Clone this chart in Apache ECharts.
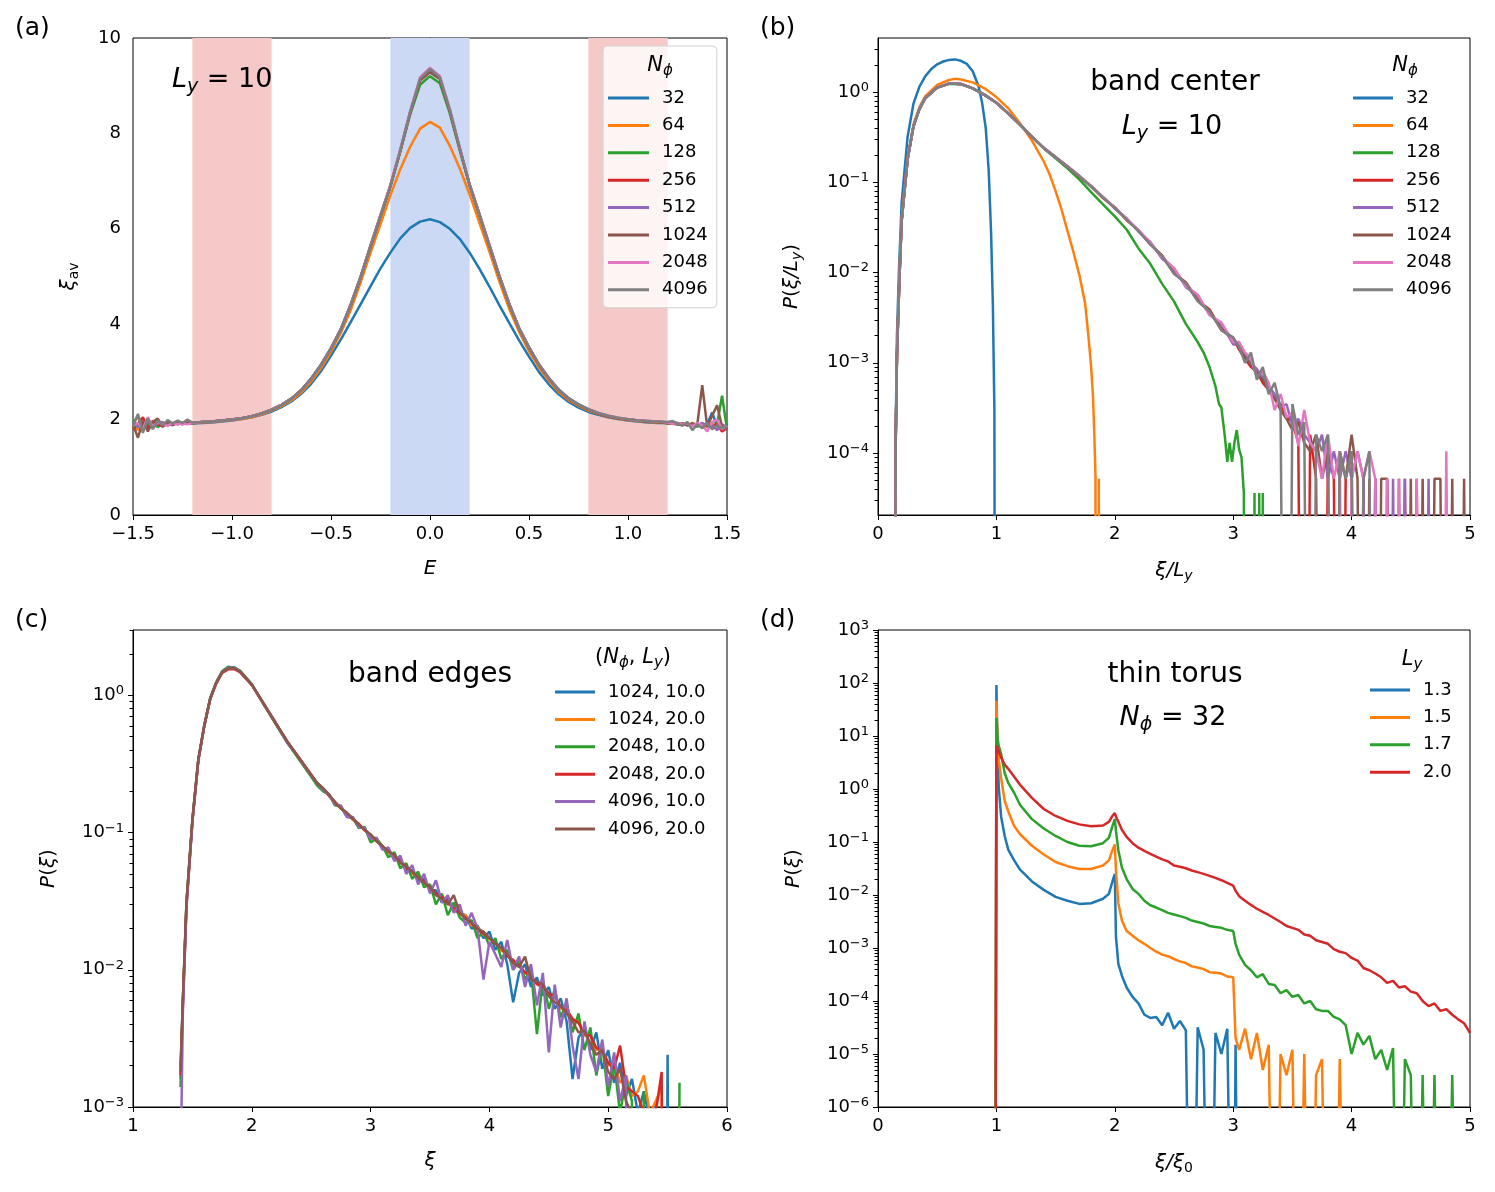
<!DOCTYPE html>
<html>
<head>
<meta charset="utf-8">
<script src="https://cdn.jsdelivr.net/npm/echarts@6/dist/echarts.min.js"></script>
<style>
  html, body { margin: 0; padding: 0; background: #fff; }
  #chart { width: 1495px; height: 1192px; }
</style>
</head>
<body>
<div id="chart"></div>
<script>
// ---------- panel (a): xi_av vs E ----------
const xA = [-1.5,-1.475,-1.45,-1.425,-1.4,-1.375,-1.35,-1.325,-1.3,-1.275,-1.25,-1.225,-1.2,
  -1.15,-1.1,-1.05,-1,-0.95,-0.9,-0.85,-0.8,-0.75,-0.7,-0.65,-0.6,-0.55,-0.5,-0.45,-0.4,-0.35,-0.3,-0.25,-0.2,-0.15,-0.1,-0.05,0,
  0.05,0.1,0.15,0.2,0.25,0.3,0.35,0.4,0.45,0.5,0.55,0.6,0.65,0.7,0.75,0.8,0.85,0.9,0.95,1,1.05,1.1,1.15,
  1.2,1.225,1.25,1.275,1.3,1.325,1.35,1.375,1.4,1.425,1.45,1.475,1.5]
const a32 = [1.86,1.9,1.83,1.95,1.88,1.92,1.89,1.91,1.9,1.92,1.91,1.93,1.92,
  1.93,1.94,1.96,1.98,2.01,2.05,2.1,2.17,2.26,2.38,2.54,2.75,3.02,3.34,3.68,4.05,4.42,4.8,5.17,5.5,5.8,6.02,6.15,
  6.2,
  6.14,6.0,5.79,5.5,5.16,4.79,4.4,4.03,3.66,3.32,3.0,2.74,2.53,2.37,2.25,2.16,2.1,2.05,2.01,1.98,1.96,1.94,1.93,
  1.93,1.92,1.91,1.9,1.92,1.88,1.9,1.87,1.91,2.15,1.85,1.88,1.8]
const a64 = [1.9,1.78,1.92,1.85,1.95,1.87,1.91,1.9,1.93,1.91,1.92,1.92,1.93,
  1.94,1.95,1.97,1.99,2.01,2.05,2.11,2.19,2.28,2.4,2.57,2.8,3.08,3.42,3.82,4.3,4.88,5.5,6.1,6.7,7.25,7.72,8.1,
  8.24,
  8.12,7.74,7.27,6.72,6.12,5.52,4.9,4.32,3.84,3.43,3.09,2.81,2.58,2.41,2.29,2.19,2.12,2.06,2.02,1.99,1.97,1.95,1.94,
  1.93,1.92,1.9,1.92,1.88,1.93,1.86,1.9,1.84,1.92,1.87,1.82,1.85]
const a128 = [1.95,2.05,1.85,1.9,1.96,1.84,1.93,1.9,1.92,1.94,1.91,1.93,1.92,
  1.95,1.96,1.98,2.0,2.03,2.07,2.13,2.2,2.3,2.43,2.61,2.85,3.14,3.48,3.88,4.4,4.98,5.62,6.25,6.88,7.62,8.4,9.02,
  9.2,
  9.05,8.42,7.65,6.9,6.27,5.64,5.0,4.41,3.9,3.5,3.15,2.86,2.62,2.44,2.31,2.21,2.13,2.07,2.03,2.0,1.98,1.96,1.95,
  1.92,1.93,1.9,1.91,1.89,1.9,1.85,1.92,1.88,1.84,1.9,2.5,1.8]
const a256 = [1.8,1.92,2.05,1.82,1.97,1.9,1.86,1.94,1.9,1.92,1.93,1.91,1.93,
  1.95,1.96,1.98,2.0,2.03,2.07,2.13,2.21,2.31,2.44,2.62,2.86,3.15,3.5,3.9,4.41,4.99,5.64,6.27,6.9,7.64,8.44,9.12,
  9.3,
  9.15,8.48,7.68,6.92,6.29,5.65,5.01,4.42,3.91,3.51,3.15,2.86,2.62,2.44,2.31,2.21,2.13,2.07,2.03,2.0,1.98,1.96,1.95,
  1.93,1.91,1.92,1.89,1.91,1.88,1.9,1.86,1.93,1.85,1.9,1.75,1.82]
const a512 = [1.95,1.84,1.9,1.98,1.83,1.92,1.95,1.88,1.92,1.9,1.94,1.92,1.93,
  1.95,1.96,1.98,2.0,2.03,2.07,2.13,2.21,2.31,2.44,2.62,2.86,3.15,3.5,3.9,4.42,5.0,5.65,6.28,6.91,7.65,8.45,9.14,
  9.32,
  9.16,8.49,7.69,6.93,6.3,5.66,5.02,4.43,3.92,3.52,3.16,2.87,2.63,2.45,2.32,2.22,2.14,2.08,2.04,2.01,1.98,1.97,1.96,
  1.94,1.92,1.93,1.9,1.88,1.91,1.87,1.93,1.86,1.88,1.78,1.9,1.84]
const a1024 = [1.9,1.62,1.98,1.75,1.95,2.02,1.85,1.93,1.88,1.95,1.9,1.94,1.93,
  1.95,1.96,1.98,2.0,2.03,2.07,2.13,2.21,2.31,2.44,2.62,2.86,3.15,3.5,3.9,4.41,4.99,5.64,6.27,6.9,7.63,8.43,9.11,
  9.28,
  9.14,8.47,7.68,6.92,6.29,5.65,5.01,4.42,3.91,3.51,3.15,2.86,2.62,2.44,2.31,2.21,2.13,2.07,2.03,2.0,1.98,1.96,1.95,
  1.93,1.92,1.9,1.92,1.88,1.92,1.9,2.72,1.85,2.08,2.3,1.85,1.8]
const a2048 = [1.88,1.93,1.8,2.05,1.85,1.95,1.9,1.87,1.93,1.9,1.92,1.9,1.93,
  1.95,1.96,1.98,2.0,2.03,2.07,2.13,2.21,2.31,2.44,2.62,2.86,3.15,3.5,3.9,4.42,5.0,5.66,6.29,6.92,7.67,8.47,9.18,
  9.38,
  9.2,8.52,7.71,6.94,6.31,5.67,5.03,4.44,3.92,3.52,3.16,2.87,2.63,2.45,2.32,2.22,2.14,2.08,2.04,2.01,1.98,1.97,1.96,
  1.94,1.91,1.93,1.9,1.92,1.86,1.93,1.88,1.75,1.95,2.0,1.8,1.87]
const a4096 = [1.85,2.12,1.72,2.02,1.8,1.98,1.88,1.99,1.92,1.98,1.93,2.0,1.94,
  1.95,1.96,1.98,2.0,2.03,2.07,2.13,2.21,2.31,2.44,2.62,2.86,3.15,3.5,3.9,4.42,5.0,5.65,6.28,6.9,7.65,8.45,9.15,
  9.35,
  9.18,8.5,7.7,6.93,6.3,5.66,5.02,4.43,3.92,3.52,3.16,2.87,2.63,2.45,2.32,2.22,2.14,2.08,2.04,2.01,1.98,1.97,1.96,
  1.95,1.97,1.92,1.87,1.95,1.78,1.9,1.82,1.93,1.8,1.88,1.82,1.87]
const namesN = ['32', '64', '128', '256', '512', '1024', '2048', '4096']
const bandsRed = [[-1.2, -0.8], [0.8, 1.2]]
const bandBlue = [-0.2, 0.2]

// ---------- panel (b): P(xi/Ly), band center ----------
const xB32 = [0.14,0.15,0.16,0.177,0.2,0.25,0.3,0.35,0.4,0.45,0.5,0.55,0.6,0.65,0.7,0.75,0.8,0.85,0.88,0.91,0.935,0.955,0.97,0.983,0.994]
const yB32 = [0,2e-4,2e-3,0.0105,0.06,0.32,0.75,1.15,1.5,1.8,2.03,2.18,2.27,2.3,2.22,2.05,1.7,1.15,0.75,0.4,0.135,0.028,4.5e-3,3e-4,0]
const xB64 = [0.14,0.15,0.16,0.18,0.2,0.25,0.3,0.35,0.4,0.5,0.6,0.65,0.7,0.8,0.9,1.0,1.1,1.2,1.3,1.4,
  1.45,1.5,1.55,1.6,1.65,1.7,1.75,1.78,1.8,1.815,1.826,1.837,1.843,1.86,1.865,1.87]
const yB64 = [0,1.5e-4,1.3e-3,9e-3,0.04,0.19,0.44,0.68,0.9,1.2,1.36,1.4,1.38,1.28,1.1,0.88,0.66,0.45,0.29,0.17,
  0.122,0.08,0.05,0.029,0.017,0.0095,0.0045,0.0018,9e-4,4.4e-4,1.8e-4,5.5e-5,0,0,5.2e-5,0]
const xB128 = [0.14,0.15,0.16,0.18,0.2,0.25,0.3,0.35,0.4,0.5,0.6,0.7,0.8,0.9,1.0,1.1,1.2,1.3,1.4,1.5,
  1.6,1.7,1.8,1.9,2.0,2.1,2.2,2.3,2.4,2.5,2.6,2.7,2.75,2.8,2.85,2.88,2.9,2.93,2.95,2.97,
  2.99,3.01,3.03,3.05,3.07,3.09,3.1,3.17,3.18,3.19,3.21,3.22,3.23,3.24,3.25,3.26]
const yB128 = [0,1.5e-4,1.2e-3,8e-3,0.038,0.18,0.42,0.65,0.86,1.12,1.23,1.22,1.1,0.93,0.76,0.578,0.432,0.318,0.237,0.185,
  0.143,0.108,0.078,0.057,0.042,0.03,0.0185,0.0125,0.0075,0.0048,0.0027,0.0017,0.0013,9e-4,5.5e-4,3.5e-4,3.2e-4,1.5e-4,8e-5,1.3e-4,
  8e-5,1.3e-4,1.8e-4,1.1e-4,9e-5,3.6e-5,0,0,3.6e-5,0,0,3.6e-5,0,0,3.6e-5,0]
const xBund = [0.14,0.15,0.16,0.18,0.2,0.25,0.3,0.35,0.4,0.5,0.6,0.7,0.8,0.9,1.0,1.1,1.2,1.3,1.4,1.5,
  1.6,1.7,1.8,1.9,2.0,2.1,2.2,2.3,2.4,2.5,2.6,2.7,2.8,2.9,3.0,
  3.05,3.1,3.15,3.2,3.25,3.3,3.35,3.4,3.45,3.5,3.55,3.6,3.65,3.7,3.75,3.8,3.85,3.9,3.95,4.0,
  4.05,4.1,4.15,4.2,4.25,4.3,4.35,4.4,4.45,4.5,4.55,4.6,4.65,4.7,4.75,4.8,4.85,4.9,4.95,5.0]
const yB256 = [0,1.4e-4,1.1e-3,7.8e-3,0.037,0.18,0.42,0.65,0.86,1.12,1.24,1.23,1.1,0.93,0.76,0.58,0.435,
  0.32,0.24,0.19,0.15,0.116,0.091,0.067,0.053,0.038,0.0295,0.0205,0.0155,0.0098,0.0078,0.0049,0.0039,0.0023,0.0019,
  1.4e-3,1.1e-3,9e-4,8e-4,6e-4,5e-4,4e-4,3.5e-4,2.5e-4,2.2e-4,1.3e-4,0,1.6e-4,5.2e-5,0,1.05e-4,5.2e-5,0,5.2e-5,1.05e-4,
  0,5.2e-5,0,5.2e-5,0,5.2e-5,0,0,5.2e-5,0,5.2e-5,0,0,0,0,0,0,0,0,0]
const yB512 = [0,1.6e-4,1.25e-3,8.2e-3,0.039,0.18,0.42,0.65,0.86,1.12,1.24,1.23,1.1,0.93,0.76,0.58,0.436,
  0.321,0.241,0.191,0.151,0.118,0.089,0.069,0.051,0.04,0.0285,0.0218,0.0142,0.0112,0.0069,0.0056,0.0034,0.0027,0.0016,
  1.6e-3,1.2e-3,1.0e-3,8.5e-4,7e-4,5.5e-4,4.5e-4,3.2e-4,3.5e-4,2e-4,2.4e-4,1.6e-4,1.3e-4,1.05e-4,1.6e-4,5.2e-5,1.05e-4,5.2e-5,1.05e-4,5.2e-5,
  1.05e-4,5.2e-5,0,5.2e-5,0,0,5.2e-5,0,5.2e-5,0,0,0,5.2e-5,0,0,0,0,0,0,0]
const yB1024 = [0,1.5e-4,1.2e-3,8e-3,0.038,0.18,0.42,0.65,0.86,1.12,1.24,1.23,1.1,0.93,0.76,0.579,0.434,
  0.319,0.239,0.189,0.149,0.117,0.09,0.068,0.052,0.0392,0.029,0.021,0.0151,0.0101,0.0076,0.005,0.0038,0.0024,0.0018,
  1.5e-3,1.15e-3,9.5e-4,7.5e-4,6.5e-4,5e-4,4e-4,3e-4,2.4e-4,1.8e-4,2.2e-4,1.3e-4,1.05e-4,1.6e-4,5.2e-5,1.05e-4,0,1.05e-4,5.2e-5,1.6e-4,
  5.2e-5,0,5.2e-5,0,5.2e-5,5.2e-5,0,5.2e-5,0,5.2e-5,0,5.2e-5,0,5.2e-5,5.2e-5,0,5.2e-5,0,5.2e-5,0]
const yB2048 = [0,1.5e-4,1.2e-3,8e-3,0.038,0.18,0.42,0.65,0.86,1.12,1.24,1.23,1.1,0.93,0.76,0.58,0.435,
  0.32,0.24,0.19,0.151,0.118,0.091,0.069,0.0525,0.0395,0.0295,0.0215,0.0148,0.0112,0.0071,0.0057,0.0034,0.0028,0.0017,
  1.7e-3,1.3e-3,1.1e-3,7e-4,8e-4,6e-4,3e-4,4.5e-4,2.5e-4,2.8e-4,1.2e-4,3e-4,1.3e-4,1.05e-4,5.2e-5,1.6e-4,5.2e-5,1.05e-4,0,5.2e-5,
  1.05e-4,5.2e-5,1.05e-4,5.2e-5,0,5.2e-5,0,5.2e-5,0,0,5.2e-5,0,0,0,0,1.05e-4,0,0,0,0]
const yB4096 = [0,1.5e-4,1.2e-3,8e-3,0.038,0.18,0.42,0.65,0.86,1.12,1.24,1.23,1.1,0.93,0.76,0.58,0.435,
  0.32,0.24,0.19,0.15,0.117,0.09,0.068,0.052,0.0385,0.0288,0.0205,0.0152,0.0097,0.0076,0.0048,0.0037,0.0023,0.0019,
  1.5e-3,1.0e-3,1.3e-3,6.5e-4,9e-4,4.5e-4,6e-4,3.2e-4,0,3.5e-4,1.6e-4,2.2e-4,0,1.6e-4,1.05e-4,1.6e-4,0,1.05e-4,5.2e-5,1.05e-4,
  0,5.2e-5,1.05e-4,0,0,0,0,0,0,0,0,0,0,0,0,0,0,0,0,0]
const ticksB = [1e-4, 1e-3, 1e-2, 1e-1, 1]

// ---------- panel (c): P(xi), band edges ----------
const xC = [1.4,1.42,1.45,1.5,1.55,1.6,1.65,1.7,1.75,1.8,1.85,1.9,2.0,2.1,2.2,2.3,2.4,2.5,
  2.55,2.6,2.65,2.7,2.75,2.8,2.85,2.9,2.95,3.0,3.05,3.1,3.15,3.2,3.25,3.3,3.35,3.4,3.45,3.5,
  3.55,3.6,3.65,3.7,3.75,3.8,3.85,3.9,3.95,4.0,4.05,4.1,4.15,4.2,4.25,4.3,4.35,4.4,4.45,4.5,
  4.55,4.6,4.65,4.7,4.75,4.8,4.85,4.9,4.95,5.0,5.05,5.1,5.15,5.2,5.25,5.3,5.35,5.4,5.45,5.5,5.55,5.6]
const c1024_10 = [2e-3,6e-3,0.03,0.123,0.34,0.6,0.95,1.23,1.48,1.58,1.6,1.51,1.2,0.87,0.63,0.457,0.347,0.263,
  0.23,0.21,0.185,0.168,0.15,0.136,0.127,0.113,0.107,0.093,0.089,0.077,0.074,0.064,0.063,0.053,0.053,0.045,0.046,0.038,
  0.038,0.031,0.033,0.027,0.026,0.025,0.02,0.021,0.017,0.019,0.014,0.016,0.011,0.0058,0.0095,0.011,0.0075,0.0088,0.0065,0.0075,
  0.0052,0.0062,0.0042,0.0016,0.0032,0.0038,0.0026,0.0035,0.0019,0.0026,0.0015,0.0021,0.0012,0.0016,0.0009,0.0013,0.0008,0.0011,0,0.0024,0,0]
const c1024_20 = [1.6e-3,5.5e-3,0.029,0.12,0.335,0.6,0.94,1.22,1.47,1.57,1.58,1.5,1.2,0.87,0.63,0.455,0.345,0.26,
  0.228,0.207,0.188,0.165,0.152,0.139,0.124,0.116,0.104,0.097,0.086,0.08,0.071,0.069,0.061,0.057,0.05,0.049,0.043,0.041,
  0.035,0.035,0.03,0.029,0.025,0.025,0.021,0.0205,0.018,0.0168,0.0158,0.0138,0.0131,0.0113,0.0109,0.0094,0.0092,0.0078,0.0076,0.0066,
  0.0066,0.0052,0.0053,0.0042,0.0043,0.0033,0.0034,0.0026,0.0027,0.002,0.0021,0.0015,0.0017,0.0012,0.0013,0.0017,0.0009,0.0011,0.0014,0,0,0]
const c2048_10 = [1.4e-3,6e-3,0.031,0.125,0.345,0.61,0.96,1.25,1.5,1.62,1.6,1.52,1.21,0.86,0.62,0.45,0.34,0.255,
  0.22,0.2,0.19,0.158,0.155,0.13,0.128,0.108,0.11,0.085,0.09,0.08,0.066,0.072,0.055,0.06,0.046,0.052,0.04,0.042,
  0.03,0.036,0.025,0.031,0.024,0.022,0.023,0.017,0.019,0.015,0.017,0.012,0.014,0.01,0.0115,0.0085,0.01,0.0034,0.0085,0.0052,
  0.0072,0.0045,0.0058,0.0035,0.0048,0.0026,0.0038,0.0017,0.0028,0.0012,0.0021,0.0009,0.0016,0.0011,0,0.0013,0,0.0009,0,0.0008,0,0.0015]
const c2048_20 = [1.7e-3,5.8e-3,0.03,0.122,0.34,0.6,0.94,1.22,1.46,1.55,1.56,1.48,1.19,0.87,0.63,0.46,0.35,0.265,
  0.23,0.21,0.187,0.167,0.152,0.137,0.126,0.116,0.104,0.096,0.088,0.078,0.073,0.067,0.063,0.055,0.052,0.047,0.044,0.04,
  0.036,0.034,0.031,0.028,0.026,0.024,0.022,0.0195,0.0185,0.017,0.0155,0.0145,0.0125,0.0118,0.0106,0.0096,0.009,0.0079,0.0075,0.0067,
  0.0064,0.0054,0.0051,0.0044,0.0041,0.0034,0.0033,0.0027,0.0026,0.0021,0.0019,0.0028,0.0014,0.0013,0.0012,0.0009,0,0.0009,0.0018,0,0,0]
const c4096_10 = [3e-4,5e-3,0.028,0.12,0.335,0.6,0.95,1.24,1.49,1.59,1.6,1.5,1.2,0.86,0.64,0.45,0.35,0.26,
  0.23,0.205,0.19,0.16,0.158,0.13,0.13,0.11,0.108,0.09,0.092,0.075,0.078,0.062,0.068,0.05,0.058,0.042,0.05,0.036,
  0.045,0.031,0.035,0.026,0.03,0.021,0.026,0.02,0.0085,0.016,0.013,0.0105,0.0165,0.01,0.0125,0.0075,0.011,0.0055,0.0095,0.0025,
  0.0078,0.0038,0.0062,0.0028,0.0016,0.0042,0.0024,0.0018,0.0031,0.0014,0.0025,0.0011,0.0017,0,0,0,0,0,0,0,0,0]
const c4096_20 = [1.8e-3,6.2e-3,0.031,0.124,0.34,0.6,0.95,1.23,1.48,1.57,1.58,1.5,1.2,0.87,0.63,0.46,0.347,0.262,
  0.23,0.21,0.19,0.165,0.15,0.14,0.127,0.114,0.105,0.097,0.087,0.08,0.073,0.069,0.06,0.057,0.052,0.047,0.043,0.04,
  0.035,0.033,0.03,0.035,0.026,0.0235,0.022,0.02,0.019,0.017,0.0155,0.0145,0.013,0.0112,0.0105,0.0125,0.0085,0.0082,0.0078,0.0064,
  0.0058,0.0055,0.0048,0.0042,0.0035,0.0036,0.0029,0.0024,0.0026,0.0018,0.0016,0.0019,0.0011,0.0009,0,0,0,0,0,0,0,0]
const namesC = ['1024, 10.0', '1024, 20.0', '2048, 10.0', '2048, 20.0', '4096, 10.0', '4096, 20.0']
const ticksC = [1e-3, 1e-2, 1e-1, 1]

// ---------- panel (d): P(xi), thin torus ----------
const xD = [0.99,1.0,1.01,1.02,1.04,1.07,1.1,1.15,1.2,1.3,1.4,1.5,1.6,1.7,1.8,1.9,1.95,1.98,2.0,2.01,
  2.03,2.06,2.1,2.15,2.2,2.25,2.3,2.35,2.4,2.45,2.5,2.55,2.6,2.65,2.7,2.75,2.8,2.85,2.9,2.95,
  3.0,3.02,3.05,3.1,3.15,3.2,3.25,3.3,3.35,3.4,3.45,3.5,3.55,3.6,3.65,3.7,3.75,3.8,3.85,3.9,
  3.95,4.0,4.05,4.1,4.15,4.2,4.25,4.3,4.35,4.4,4.45,4.5,4.55,4.6,4.65,4.7,4.75,4.8,4.85,4.9,4.95,5.0]
const dLy13 = [0,92,5,1.07,0.3,0.13,0.072,0.045,0.03,0.018,0.0125,0.0092,0.0078,0.0068,0.007,0.0085,0.0105,0.018,0.025,0.0016,
  0.0005,0.0003,0.00018,0.00012,9e-5,5.5e-5,4.8e-5,5e-5,3.5e-5,6e-5,3e-5,4.2e-5,2.8e-5,0,3.2e-5,1.2e-5,0,2.5e-5,1e-5,3e-5,
  0,1.5e-5,0,0,0,0,0,0,0,0,0,0,0,0,0,0,0,0,0,0,
  0,0,0,0,0,0,0,0,0,0,0,0,0,0,0,0,0,0,0,0,0,0]
const dLy15 = [0,46,8,3.5,1.6,0.6,0.38,0.2,0.14,0.085,0.058,0.042,0.035,0.031,0.031,0.036,0.045,0.07,0.09,0.028,
  0.007,0.0033,0.0021,0.0017,0.0014,0.0012,0.001,0.00085,0.00075,0.0007,0.00062,0.00056,0.00052,0.00045,0.00043,0.0004,0.00035,0.00034,0.00033,0.00029,
  0.00028,2e-5,1.2e-5,3e-5,8e-6,2.5e-5,5e-6,1.5e-5,0,1e-5,4e-6,1.2e-5,0,1e-5,0,4e-6,8e-6,0,0,8e-6,
  0,0,0,0,0,0,0,0,0,0,0,0,0,0,0,0,0,0,0,0,0,0]
const dLy17 = [0,22,9,6.5,4.6,2.0,1.3,0.85,0.5,0.27,0.18,0.13,0.1,0.085,0.083,0.095,0.12,0.2,0.27,0.16,
  0.07,0.033,0.02,0.013,0.0105,0.0078,0.0064,0.0058,0.0052,0.0046,0.0043,0.004,0.0037,0.0033,0.0031,0.0029,0.0026,0.0025,0.0024,0.0022,
  0.0021,0.0012,0.00075,0.00048,0.00038,0.00028,0.00032,0.00021,0.0002,0.00014,0.00016,0.00012,0.00013,9e-5,1e-4,7e-5,6.5e-5,6.5e-5,5e-5,4.5e-5,
  3.5e-5,1e-5,2.5e-5,1.5e-5,2.2e-5,8e-6,1.2e-5,5e-6,1.3e-5,0,8e-6,4e-6,0,4e-6,0,4e-6,0,0,4e-6,0,0,0]
const dLy20 = [0,6.6,6.0,5.0,3.9,2.9,2.4,1.7,1.2,0.68,0.42,0.31,0.25,0.215,0.198,0.205,0.24,0.31,0.35,0.3,
  0.24,0.17,0.125,0.095,0.078,0.068,0.06,0.053,0.047,0.043,0.036,0.034,0.032,0.029,0.027,0.025,0.023,0.021,0.019,0.017,
  0.015,0.012,0.0095,0.0078,0.0065,0.0055,0.0048,0.0042,0.0036,0.0031,0.0026,0.0024,0.0022,0.0018,0.0017,0.0014,0.0013,0.0012,0.00095,0.00085,
  0.0008,0.00065,0.00058,0.00042,0.00038,0.00033,0.00028,0.00022,0.00024,0.00018,0.00019,0.00015,0.00014,0.0001,8e-5,9e-5,6.5e-5,7e-5,5.5e-5,4.5e-5,3.8e-5,2.5e-5]
const namesD = ['1.3', '1.5', '1.7', '2.0']
const ticksD = [1e-6, 1e-5, 1e-4, 1e-3, 1e-2, 1e-1, 1, 10, 100, 1000]

const FONT = 'DejaVu Sans'
const COLORS = ['#1f77b4', '#ff7f0e', '#2ca02c', '#d62728', '#9467bd', '#8c564b', '#e377c2', '#7f7f7f']

function richSet(size) {
  const s = Math.round(size * 0.7)
  const pad = Math.round(size * 0.5)
  return {
    it: { fontFamily: FONT, fontSize: size, fontStyle: 'italic', color: '#000', fill: '#000' },
    sub: { fontFamily: FONT, fontSize: s, fontStyle: 'italic', color: '#000', fill: '#000', padding: [pad, 0, 0, 0] },
    subr: { fontFamily: FONT, fontSize: s, color: '#000', fill: '#000', padding: [pad, 0, 0, 0] },
    sup: { fontFamily: FONT, fontSize: s, color: '#000', fill: '#000', padding: [0, 0, pad, 0] }
  }
}

// pairs for a plot; zero bins on a log axis are pushed far below the frame (like matplotlib clipping)
function pairs(xs, ys, logY) {
  return xs.map((x, i) => [x, logY && !(ys[i] > 0) ? 1e-12 : ys[i]])
}

function minorTicks(lo, hi) {
  const out = []
  for (let e = Math.floor(Math.log10(lo)); e <= Math.ceil(Math.log10(hi)); e++) {
    for (let m = 2; m <= 9; m++) {
      const v = m * Math.pow(10, e)
      if (v >= lo && v <= hi) out.push(v)
    }
  }
  return out
}

const tickLabel = { fontFamily: FONT, fontSize: 18, color: '#000' }

function xAxisDef(grid, min, max, interval, name, fmt) {
  return {
    type: 'value', gridIndex: grid, position: 'bottom', min: min, max: max, interval: interval,
    name: name, nameLocation: 'middle', nameGap: 44,
    nameTextStyle: { fontFamily: FONT, fontSize: 20, color: '#000', rich: richSet(20) },
    axisLine: { show: true, lineStyle: { color: '#000', width: 1 } },
    axisTick: { show: true, length: 5, lineStyle: { color: '#000', width: 1 } },
    axisLabel: Object.assign({ margin: 10, showMinLabel: true, showMaxLabel: true, formatter: fmt }, tickLabel),
    splitLine: { show: false }
  }
}

function logLabel(v) {
  const e = Math.round(Math.log10(v))
  return '10{sup|' + (e < 0 ? '\u2212' + (-e) : e) + '}'
}

function logAxes(grid, min, max, major, name, gap) {
  return [{
    type: 'log', logBase: 10, gridIndex: grid, position: 'left', min: min, max: max,
    name: name, nameLocation: 'middle', nameGap: gap, nameRotate: 90,
    nameTextStyle: { fontFamily: FONT, fontSize: 20, color: '#000', rich: richSet(20) },
    axisLine: { show: true, lineStyle: { color: '#000', width: 1 } },
    axisTick: { show: true, length: 5, customValues: major, lineStyle: { color: '#000', width: 1 } },
    axisLabel: Object.assign({ margin: 9, customValues: major, formatter: logLabel, rich: richSet(18) }, tickLabel),
    splitLine: { show: false }
  }, {
    type: 'log', logBase: 10, gridIndex: grid, position: 'left', offset: 0, min: min, max: max,
    axisLine: { show: false },
    axisTick: { show: true, length: 3.5, customValues: minorTicks(min, max), lineStyle: { color: '#000', width: 1 } },
    axisLabel: { show: false },
    splitLine: { show: false }
  }]
}

function lineSeries(name, xi, yi, data, color) {
  return {
    type: 'line', name: name, xAxisIndex: xi, yAxisIndex: yi, data: data,
    symbol: 'none', showSymbol: false, animation: false, silent: true,
    lineStyle: { width: 2.5, color: color }, itemStyle: { color: color },
    emphasis: { disabled: true }
  }
}

const fmtA = v => (v < 0 ? '\u2212' + Math.abs(v).toFixed(1) : v.toFixed(1))
const fmtInt = v => String(v)

const yAxes = [{
  type: 'value', gridIndex: 0, position: 'left', min: 0, max: 10, interval: 2,
  name: '{it|\u03be}{subr|av}', nameLocation: 'middle', nameGap: 52, nameRotate: 90,
  nameTextStyle: { fontFamily: FONT, fontSize: 20, color: '#000', rich: richSet(20) },
  axisLine: { show: true, lineStyle: { color: '#000', width: 1 } },
  axisTick: { show: true, length: 5, lineStyle: { color: '#000', width: 1 } },
  axisLabel: Object.assign({ margin: 12 }, tickLabel),
  splitLine: { show: false }
}]
  .concat(logAxes(1, 2.06e-5, 3.97, ticksB, '{it|P}({it|\u03be/L}{sub|y})', 74))
  .concat(logAxes(2, 1e-3, 3.0, ticksC, '{it|P}({it|\u03be})', 74))
  .concat(logAxes(3, 1e-6, 1e3, ticksD, '{it|P}({it|\u03be})', 74))

const series = [{
  type: 'line', name: 'bands', xAxisIndex: 0, yAxisIndex: 0, data: [], silent: true, animation: false,
  markArea: {
    silent: true,
    data: [
      [{ xAxis: bandsRed[0][0], itemStyle: { color: '#f6c9c9' } }, { xAxis: bandsRed[0][1] }],
      [{ xAxis: bandBlue[0], itemStyle: { color: '#ccd9f5' } }, { xAxis: bandBlue[1] }],
      [{ xAxis: bandsRed[1][0], itemStyle: { color: '#f6c9c9' } }, { xAxis: bandsRed[1][1] }]
    ]
  }
}]
const dataA = [a32, a64, a128, a256, a512, a1024, a2048, a4096]
dataA.forEach((ys, i) => series.push(lineSeries(namesN[i], 0, 0, pairs(xA, ys, false), COLORS[i])))

const dataB = [[xB32, yB32], [xB64, yB64], [xB128, yB128], [xBund, yB256], [xBund, yB512], [xBund, yB1024], [xBund, yB2048], [xBund, yB4096]]
dataB.forEach((d, i) => series.push(lineSeries(namesN[i], 1, 1, pairs(d[0], d[1], true), COLORS[i])))

const dataC = [c1024_10, c1024_20, c2048_10, c2048_20, c4096_10, c4096_20]
dataC.forEach((ys, i) => series.push(lineSeries(namesC[i], 2, 3, pairs(xC, ys, true), COLORS[i])))

const dataD = [dLy13, dLy15, dLy17, dLy20]
dataD.forEach((ys, i) => series.push(lineSeries(namesD[i], 3, 5, pairs(xD, ys, true), COLORS[i])))

function legendDef(names, left, top, extra) {
  return Object.assign({
    data: names, left: left, top: top, orient: 'vertical', selectedMode: false,
    icon: 'rect', itemWidth: 40, itemHeight: 3, itemGap: 7.4, padding: 0,
    itemStyle: { borderWidth: 0 },
    textStyle: { fontFamily: FONT, fontSize: 18, color: '#000', lineHeight: 20, padding: [0, 0, 0, 8] }
  }, extra || {})
}

function txt(x, y, text, size, align) {
  return {
    type: 'text', x: x, y: y, z: 100,
    style: {
      text: text, fontFamily: FONT, fontSize: size, fill: '#000',
      align: align || 'center', verticalAlign: 'middle',
      textAlign: align || 'center', textVerticalAlign: 'middle',
      rich: richSet(size)
    }
  }
}

const gridBase = { show: true, borderColor: '#000', borderWidth: 1, backgroundColor: 'transparent', containLabel: false, outerBoundsMode: 'none' }

const option = {
  backgroundColor: '#fff',
  animation: false,
  textStyle: { fontFamily: FONT },
  grid: [
    Object.assign({ left: 133, top: 38, width: 594, height: 477 }, gridBase),
    Object.assign({ left: 878, top: 38, width: 592, height: 477 }, gridBase),
    Object.assign({ left: 133, top: 630, width: 594, height: 477 }, gridBase),
    Object.assign({ left: 878, top: 630, width: 592, height: 477 }, gridBase)
  ],
  xAxis: [
    xAxisDef(0, -1.5, 1.5, 0.5, '{it|E}', fmtA),
    xAxisDef(1, 0, 5, 1, '{it|\u03be/L}{sub|y}', fmtInt),
    xAxisDef(2, 1, 6, 1, '{it|\u03be}', fmtInt),
    xAxisDef(3, 0, 5, 1, '{it|\u03be/\u03be}{subr|0}', fmtInt)
  ],
  yAxis: yAxes,
  legend: [
    legendDef(namesN, 603, 46, {
      padding: [42, 9, 8, 5], itemWidth: 41, borderColor: '#d0d0d0', borderWidth: 1, borderRadius: 4,
      backgroundColor: 'rgba(255,255,255,0.8)'
    }),
    legendDef(namesN, 1353, 88),
    legendDef(namesC, 555, 682),
    legendDef(namesD, 1370, 680)
  ],
  graphic: [
    txt(15, 28, '(a)', 25, 'left'),
    txt(760, 28, '(b)', 25, 'left'),
    txt(15, 620, '(c)', 25, 'left'),
    txt(760, 620, '(d)', 25, 'left'),
    txt(172, 80, '{it|L}{sub|y} = 10', 27, 'left'),
    txt(1175, 83, 'band center', 28),
    txt(1172, 127, '{it|L}{sub|y} = 10', 27),
    txt(430, 675, 'band edges', 28),
    txt(1175, 675, 'thin torus', 28),
    txt(1173, 718, '{it|N}{sub|\u03d5} = 32', 27),
    txt(660, 66, '{it|N}{sub|\u03d5}', 21),
    txt(1405, 66, '{it|N}{sub|\u03d5}', 21),
    txt(633, 658, '({it|N}{sub|\u03d5}, {it|L}{sub|y})', 21),
    txt(1412, 660, '{it|L}{sub|y}', 21)
  ],
  series: series
}

const chart = echarts.init(document.getElementById('chart'), null, { renderer: 'canvas' })
chart.setOption(option)
</script>
</body>
</html>
